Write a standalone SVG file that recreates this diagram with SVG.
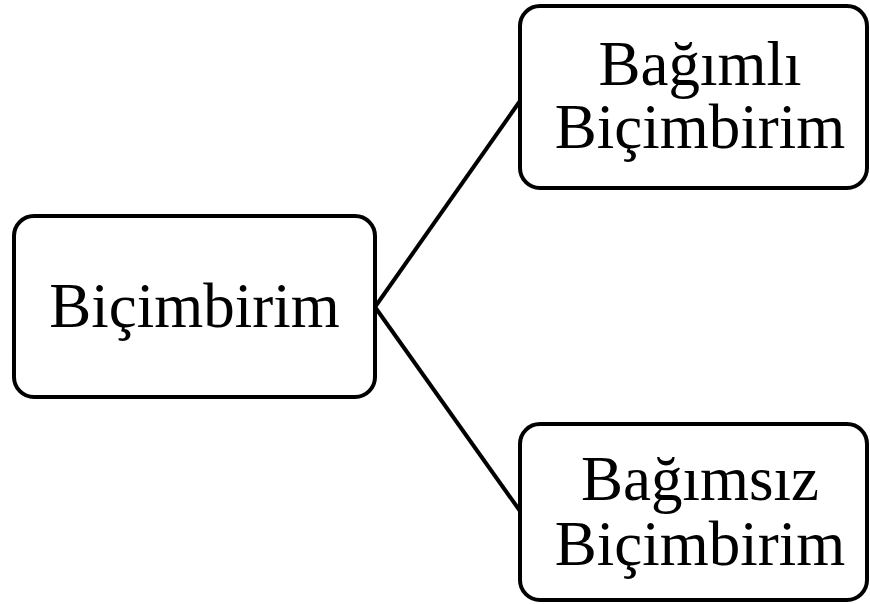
<svg xmlns="http://www.w3.org/2000/svg" width="870" height="604" viewBox="0 0 870 604">
<style>
.box{fill:#ffffff;stroke:#000000;stroke-width:4}
.lbl{font-family:"Liberation Serif","Times New Roman",serif;font-size:63px;fill:#000000;text-anchor:middle}
.edge{stroke:#000000;stroke-width:4;fill:none}
</style>
<rect width="870" height="604" fill="#ffffff"/>
<g id="connectors">
<line class="edge" x1="375" y1="307" x2="520" y2="101"/>
<line class="edge" x1="375" y1="307" x2="520" y2="511"/>
</g>
<g id="node-bicimbirim">
<rect class="box" x="14" y="216" width="361" height="181" rx="20"/>
<text class="lbl" x="194.5" y="327">Biçimbirim</text>
</g>
<g id="node-bagimli">
<rect class="box" x="520" y="6" width="347" height="182" rx="20"/>
<text class="lbl" x="700" y="85">Bağımlı</text>
<text class="lbl" x="700" y="148">Biçimbirim</text>
</g>
<g id="node-bagimsiz">
<rect class="box" x="520" y="424" width="347" height="176" rx="20"/>
<text class="lbl" x="700" y="500">Bağımsız</text>
<text class="lbl" x="700" y="565">Biçimbirim</text>
</g>
</svg>
